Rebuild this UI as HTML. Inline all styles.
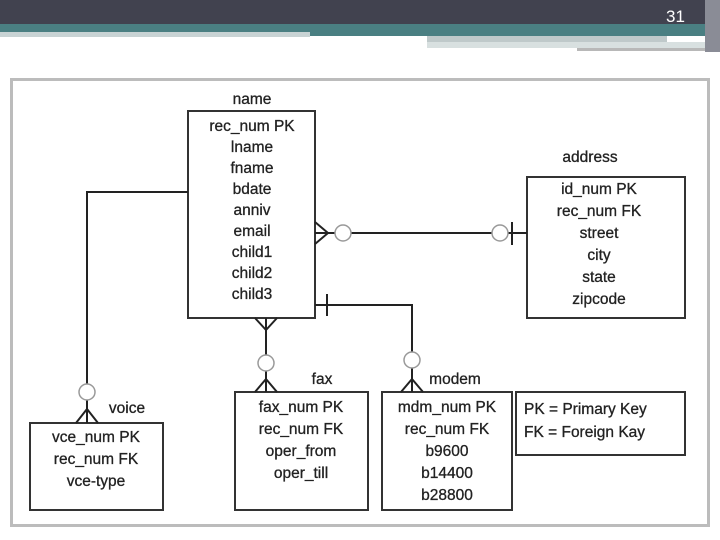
<!DOCTYPE html>
<html><head><style>
html,body{margin:0;padding:0;width:720px;height:540px;overflow:hidden;background:#fff}
svg text{font-family:"Liberation Sans",Arial,sans-serif;fill:#222}
</style></head><body>
<svg width="720" height="540" viewBox="0 0 720 540" xmlns="http://www.w3.org/2000/svg">
<rect x="0" y="0" width="720" height="24" fill="#41424f"/>
<rect x="0" y="24" width="310" height="8" fill="#4a7f82"/>
<rect x="0" y="32" width="310" height="5" fill="#c8d3d4"/>
<rect x="310" y="24" width="400" height="12" fill="#4a7f82"/>
<rect x="427" y="36" width="240" height="6" fill="#bfc9ca"/>
<rect x="427" y="42" width="285" height="6" fill="#d8e0e0"/>
<rect x="577" y="48" width="130" height="3" fill="#b8b8b8"/>
<rect x="705" y="0" width="15" height="52" fill="#8a8c96"/>
<text x="666" y="22" font-size="17" style="fill:#fff">31</text>
<rect x="11.5" y="79.5" width="697" height="446" fill="#fff" stroke="#bcbcbc" stroke-width="3"/>
<g stroke="#333" stroke-width="2" fill="#fff">
<rect x="188" y="111" width="127" height="207"/>
<rect x="527" y="177" width="158" height="141"/>
<rect x="30" y="423" width="133" height="87"/>
<rect x="235" y="392" width="133" height="118"/>
<rect x="382" y="392" width="130" height="118"/>
<rect x="516" y="392" width="169" height="63"/>
</g>
<g stroke="#222" stroke-width="2" fill="none">
<line x1="315" y1="233" x2="527" y2="233"/>
<path d="M315 222 L328 233 L315 244"/>
<line x1="512" y1="222" x2="512" y2="245"/>
<path d="M188 192 H87 V423"/>
<path d="M76 423 L87 409 L98 423"/>
<line x1="255" y1="318" x2="266" y2="330"/><line x1="277" y1="318" x2="266" y2="330"/>
<line x1="266" y1="318" x2="266" y2="392"/>
<path d="M255 392 L266 379 L277 392"/>
<path d="M315 305 H412 V392"/>
<line x1="327" y1="294" x2="327" y2="316"/>
<path d="M401 392 L412 379 L423 392"/>
</g>
<g stroke="#999" stroke-width="1.5" fill="#fff">
<circle cx="343" cy="233" r="8"/>
<circle cx="500" cy="233" r="8"/>
<circle cx="87" cy="392" r="8"/>
<circle cx="266" cy="363" r="8"/>
<circle cx="412" cy="360" r="8"/>
</g>
<g font-size="15.5" text-anchor="middle" stroke="#222" stroke-width="0.3">
<text x="252" y="104">name</text>
<text x="252" y="131">rec_num PK</text>
<text x="252" y="152">lname</text>
<text x="252" y="173">fname</text>
<text x="252" y="194">bdate</text>
<text x="252" y="215">anniv</text>
<text x="252" y="236">email</text>
<text x="252" y="257">child1</text>
<text x="252" y="278">child2</text>
<text x="252" y="299">child3</text>
<text x="590" y="162">address</text>
<text x="599" y="194">id_num PK</text>
<text x="599" y="216">rec_num FK</text>
<text x="599" y="238">street</text>
<text x="599" y="260">city</text>
<text x="599" y="282">state</text>
<text x="599" y="304">zipcode</text>
<text x="127" y="413">voice</text>
<text x="96" y="442">vce_num PK</text>
<text x="96" y="464">rec_num FK</text>
<text x="96" y="486">vce-type</text>
<text x="322" y="384">fax</text>
<text x="301" y="412">fax_num PK</text>
<text x="301" y="434">rec_num FK</text>
<text x="301" y="456">oper_from</text>
<text x="301" y="478">oper_till</text>
<text x="455" y="384">modem</text>
<text x="447" y="412">mdm_num PK</text>
<text x="447" y="434">rec_num FK</text>
<text x="447" y="456">b9600</text>
<text x="447" y="478">b14400</text>
<text x="447" y="500">b28800</text>
</g>
<g font-size="15.5" stroke="#222" stroke-width="0.3">
<text x="524" y="414">PK = Primary Key</text>
<text x="524" y="437">FK = Foreign Kay</text>
</g>
</svg>
</body></html>
